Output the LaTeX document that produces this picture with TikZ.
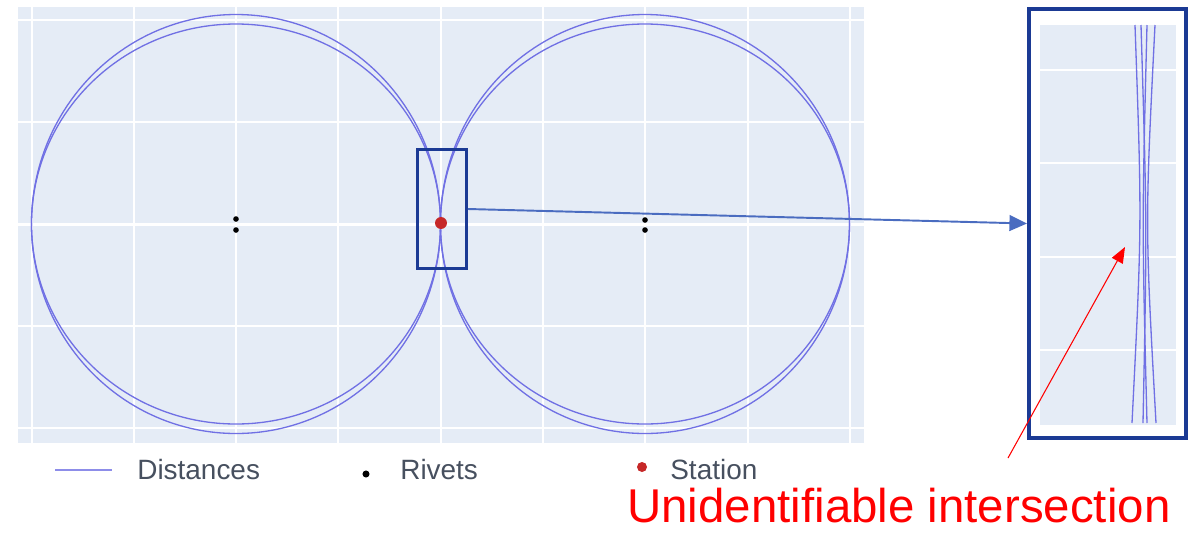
\documentclass[tikz,border=0pt]{standalone}
\usepackage{fontspec}
\setmainfont{Liberation Sans}
\usepackage{xcolor}
\usetikzlibrary{arrows.meta}
\definecolor{plotbg}{HTML}{E5ECF6}
\definecolor{tracecol}{RGB}{112,112,228}
\definecolor{boxblue}{HTML}{1B3A94}
\definecolor{arrowblue}{HTML}{4A6CC0}
\definecolor{legendtext}{HTML}{47505F}
\definecolor{stationred}{HTML}{C62828}

\begin{document}
\begin{tikzpicture}[x=0.02cm, y=-0.02cm,
  distline/.style={tracecol, line width=0.75pt},
  gridthin/.style={white, line width=0.6pt},
  gridthick/.style={white, line width=1.1pt},
  rivet/.style={circle, fill=black, inner sep=0pt, minimum size=3.2pt},
  legendlabel/.style={anchor=west, inner sep=0pt, text=legendtext, font=\fontsize{15.9}{18}\selectfont}]
  \useasboundingbox (0,0) rectangle (1191,532);
  % plot area
  \fill[plotbg] (18,7) rectangle (864,443);
  \foreach \gx in {134,338,543,748} \draw[gridthin] (\gx,7) -- (\gx,443);
  \foreach \gx in {32,236,441,645,850} \draw[gridthick] (\gx,7) -- (\gx,443);
  \foreach \gy in {20,122,326,428} \draw[gridthin] (18,\gy) -- (864,\gy);
  \draw[white, line width=1.7pt] (18,224) -- (864,224);
  % distance circles
  \foreach \cx in {236,645} {
    \draw[distline] (\cx,224) ellipse [x radius=204.5, y radius=209.5];
    \draw[distline] (\cx,224) ellipse [x radius=204.5, y radius=200];
  }
  \node[rivet] (rivL1) at (236,219) {};
  \node[rivet] (rivL2) at (236,230) {};
  \node[rivet] (rivR1) at (645,220) {};
  \node[rivet] (rivR2) at (645,230) {};
  \node[circle, fill=stationred, inner sep=0pt, minimum size=6.8pt] (station) at (441,223) {};
  % zoom window and inset
  \node[draw=boxblue, line width=1.7pt, minimum width=0.98cm, minimum height=2.38cm, inner sep=0pt] (zoombox) at (442,209) {};
  \node[draw=boxblue, line width=2.3pt, minimum width=3.14cm, minimum height=8.58cm, inner sep=0pt] (inset) at (1107.5,223.5) {};
  \fill[plotbg] (1040,25) rectangle (1176,425);
  \foreach \gy in {70,163,257,350} \draw[white, line width=1.1pt] (1040,\gy) -- (1176,\gy);
  \draw[distline] (1135,25) .. controls (1142,224) .. (1132,423);
  \draw[distline] (1155,25) .. controls (1145,224) .. (1156,423);
  \draw[distline] (1141,25) .. controls (1147,224) .. (1143,423);
  \draw[distline] (1147,25) .. controls (1142,224) .. (1147,423);
  \draw[arrowblue, line width=1.1pt, -{Triangle[length=10pt,width=9pt]}] (zoombox.east) -- (inset.west);
  % callout
  \coordinate (callout) at (1008,458);
  \coordinate (blur) at (1125,247);
  \draw[red, line width=0.6pt, -{Triangle[length=9pt,width=7pt]}] (callout) -- (blur);
  \node[anchor=base west, inner sep=0pt, text=red, font=\fontsize{27}{30}\selectfont] (caption) at (627,522) {Unidentifiable intersection};
  % legend
  \coordinate (legA) at (55,470);
  \coordinate (legB) at (112,470);
  \draw[tracecol!80!white, line width=0.9pt] (legA) -- (legB);
  \node[legendlabel] (lbldist) at (137,470) {Distances};
  \node[rivet, minimum size=4pt] (legrivet) at (366,474) {};
  \node[legendlabel] (lblrivet) at (400,470) {Rivets};
  \node[circle, fill=stationred, inner sep=0pt, minimum size=5.7pt] (legstation) at (642,467) {};
  \node[legendlabel] (lblstation) at (670,470) {Station};
\end{tikzpicture}
\end{document}
